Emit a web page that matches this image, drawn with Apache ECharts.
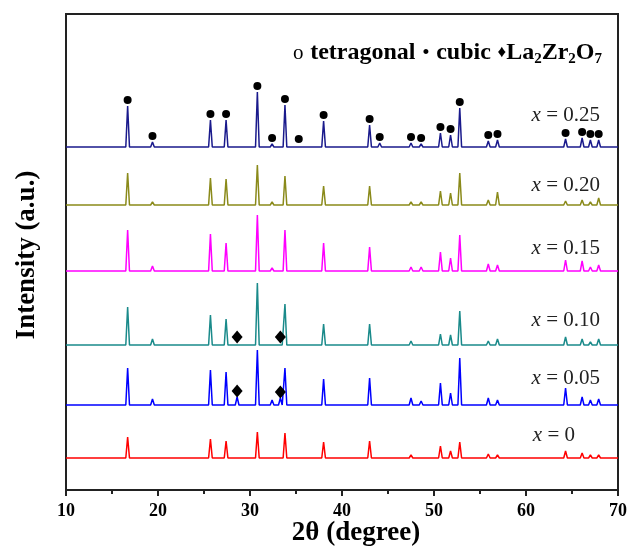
<!DOCTYPE html>
<html><head><meta charset="utf-8">
<script src="https://cdn.jsdelivr.net/npm/echarts@6/dist/echarts.min.js"></script>
<style>html,body{margin:0;padding:0;background:#fff}#c{width:630px;height:549px}</style>
</head><body><div id="c"></div>
<script>
// Peak positions (2θ, degree)
const peakPos = [16.7, 19.4, 25.7, 27.4, 28.6, 30.8, 32.4, 33.3, 33.8, 35.3, 38.0, 43.0, 44.1, 47.5, 48.6, 50.7, 51.8, 52.8, 55.9, 56.9, 59.7, 60.6, 63.5, 64.3, 66.1, 67.0, 67.9];
// Phase of each peak: c = cubic, L = La2Zr2O7, '' = unmarked
const peakPhase = ['c','c','c','c','L','c','c','L','c','c','c','c','c','c','c','c','c','c','c','c','','','','c','c','c','c'];
// Compositions and their vertical offsets (a.u.)
const compLabels = ['0', '0.05', '0.10', '0.15', '0.20', '0.25'];
const offsets = [32, 85, 145, 219, 285, 343];
// Peak intensities (a.u.) per composition, aligned with peakPos
const I_000 = [21,2,19,17,0,26,1,0,25,1,16,17,2,3,2,12,7,16,4,3,1,0,1,7,5,3,3];
const I_005 = [37,6,35,33,8,55,5,7,37,1,26,27,2,7,4,22,12,47,7,5,2,0,1,17,8,5,6];
const I_010 = [38,6,30,26,2,62,1,2,41,1,21,21,1,4,2,11,10,34,4,6,1,0,1,8,6,3,6];
const I_015 = [41,5,37,28,0,56,3,0,41,1,28,24,2,4,4,19,13,36,7,6,2,0,1,11,10,4,6];
const I_020 = [32,3,27,26,0,40,3,0,29,1,19,19,2,3,3,14,12,32,5,13,2,1,2,4,5,3,7];
const I_025 = [41,5,27,27,0,55,3,0,42,2,26,22,4,4,3,14,12,39,6,7,2,1,1,8,9,7,7];
const intensities = [I_000, I_005, I_010, I_015, I_020, I_025];
// Which patterns carry phase markers
const markCubic = [false,false,false,false,false,true];
const markLZO = [false,true,true,false,false,false];
const xTicks = [10,20,30,40,50,60,70];

const colors = ['#ff0000','#0000ff','#1a8a8a','#ff00ff','#8a8a1a','#1a1a8c'];
const HW = 0.2; // half width of peak drawing (style)
const GAP = 6;  // marker gap above peak (style)

const serif = '"Liberation Serif","Times New Roman",serif';
const series = [];
const dots = [], diamonds = [];
intensities.forEach((arr, k) => {
  const b = offsets[k];
  const data = [[10, b]];
  arr.forEach((h, i) => {
    if (h <= 0) return;
    const p = peakPos[i];
    data.push([p - HW, b], [p, b + h], [p + HW, b]);
    if (peakPhase[i] === 'c' && markCubic[k]) dots.push([p, b + h + GAP]);
    if (peakPhase[i] === 'L' && markLZO[k]) diamonds.push([p, b + h + GAP]);
  });
  data.push([70, b]);
  series.push({type:'line', data, showSymbol:false, symbol:'none', lineStyle:{color:colors[k], width:1.5}, z:2, animation:false});
});
series.push({type:'scatter', data:dots, symbol:'circle', symbolSize:8, itemStyle:{color:'#000', opacity:1}, z:3, animation:false});
series.push({type:'scatter', data:diamonds, symbol:'diamond', symbolSize:[11,13], itemStyle:{color:'#000', opacity:1}, z:3, animation:false});

const labelY = [435, 378, 320, 248, 185, 115];
const graphic = [];
compLabels.forEach((c, k) => {
  graphic.push({type:'text', x: k === 0 ? 575 : 600, y: labelY[k],
    style:{text:'{i|x} = ' + c, rich:{i:{fontStyle:'italic', fontFamily:serif, fontSize:21, fill:'#222'}},
      font:'21px ' + serif, fill:'#222', textAlign:'right', textVerticalAlign:'middle'}});
});
graphic.push({type:'text', x: 602, y: 53,
  style:{text:'{o|o}  {b|tetragonal}  {o|•}  {b|cubic}  {d|♦}{b|La}{s|2}{b|Zr}{s|2}{b|O}{s|7}',
    textAlign:'right', textVerticalAlign:'middle',
    rich:{
      o:{fontFamily:serif, fontSize:21, fill:'#000'},
      d:{fontFamily:serif, fontSize:17, fill:'#000'},
      b:{fontFamily:serif, fontSize:24, fontWeight:'bold', fill:'#000'},
      s:{fontFamily:serif, fontSize:15, fontWeight:'bold', fill:'#000', padding:[12,0,0,0]}
    }}});
graphic.push({type:'text', x: 27, y: 255, rotation: Math.PI/2,
  style:{text:'Intensity (a.u.)', font:'bold 27px ' + serif, fill:'#000', textAlign:'center', textVerticalAlign:'middle'}});
graphic.push({type:'text', x: 356, y: 533,
  style:{text:'2θ (degree)', font:'bold 27px ' + serif, fill:'#000', textAlign:'center', textVerticalAlign:'middle'}});

const chart = echarts.init(document.getElementById('c'), null, {renderer:'canvas'});
chart.setOption({
  animation:false,
  grid:{left:66, right:10, top:14, bottom:59, show:true, borderColor:'#222', borderWidth:2},
  xAxis:{type:'value', min:xTicks[0], max:xTicks[xTicks.length-1], interval:10,
    axisLine:{lineStyle:{color:'#222', width:2}},
    axisTick:{show:true, inside:false, length:6, lineStyle:{color:'#222', width:2}},
    minorTick:{show:true, splitNumber:2, length:4, lineStyle:{color:'#222', width:2}},
    axisLabel:{fontFamily:serif, fontWeight:'bold', fontSize:18, color:'#000', margin:12},
    splitLine:{show:false}},
  yAxis:{type:'value', min:0, max:476, show:true, axisLabel:{show:false}, axisTick:{show:false}, splitLine:{show:false},
    axisLine:{show:false}},
  graphic,
  series
});
</script></body></html>
